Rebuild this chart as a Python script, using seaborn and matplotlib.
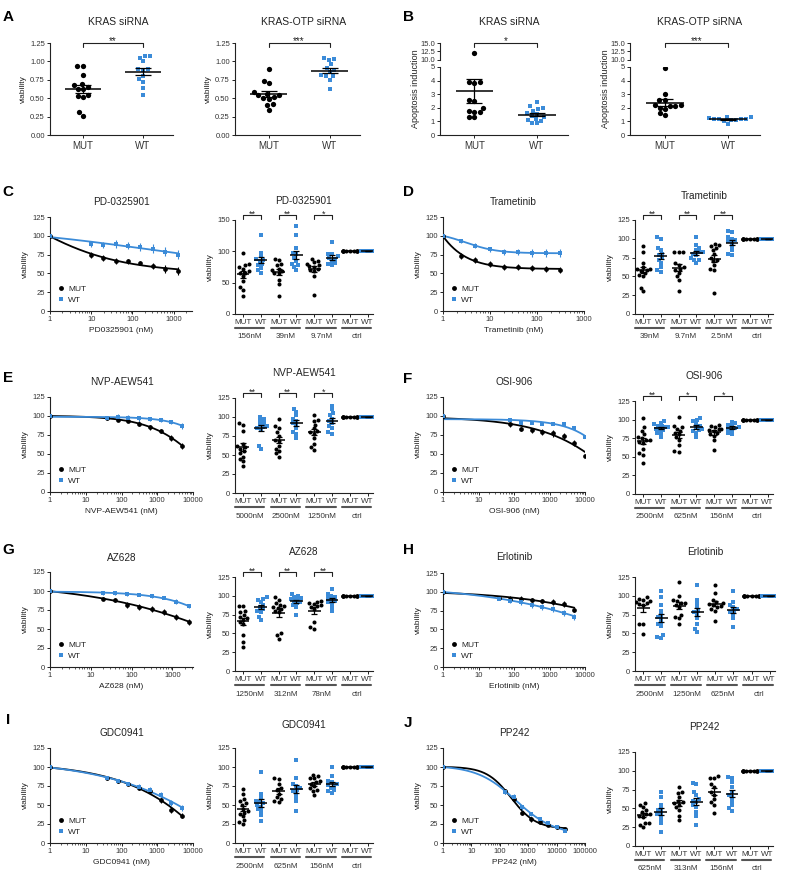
import warnings

import numpy as np
import pandas as pd
import matplotlib
matplotlib.use("Agg")
import matplotlib.pyplot as plt
import matplotlib.transforms as mtransforms
from matplotlib.lines import Line2D
from matplotlib.ticker import LogLocator, NullFormatter, FuncFormatter
import seaborn as sns

warnings.filterwarnings("ignore")

# ---------------- data ----------------
CTRL = [100, 100, 100, 100, 100, 100, 100, 100, 100, 100, 100, 100]

# A / B: siRNA knock-down, viability and apoptosis
A1_MUT = [0.94, 0.94, 0.82, 0.69, 0.68, 0.65, 0.63, 0.62, 0.55, 0.53, 0.52, 0.31, 0.26]
A1_WT = [1.08, 1.07, 1.05, 1.00, 0.90, 0.89, 0.88, 0.80, 0.76, 0.72, 0.64, 0.55]
A2_MUT = [0.89, 0.74, 0.70, 0.58, 0.56, 0.55, 0.54, 0.52, 0.50, 0.49, 0.42, 0.41, 0.34]
A2_WT = [1.05, 1.03, 1.02, 0.96, 0.91, 0.88, 0.85, 0.82, 0.80, 0.80, 0.75, 0.62]
B1_MUT = [12.2, 3.9, 3.9, 3.85, 2.6, 2.5, 2.0, 1.75, 1.7, 1.7, 1.35, 1.3]
B1_WT = [2.4, 2.1, 2.0, 1.9, 1.8, 1.6, 1.55, 1.4, 1.3, 1.2, 1.1, 1.0, 0.9, 0.85]
B2_MUT = [4.9, 3.05, 2.6, 2.55, 2.2, 2.1, 2.2, 2.1, 2.0, 1.9, 1.6, 1.45]
B2_WT = [1.35, 1.3, 1.25, 1.2, 1.2, 1.15, 1.15, 1.1, 1.1, 1.0, 0.8]

# dose-response curves: concentration (nM), mean and SEM viability
C_CONC = [1, 9.77, 19.5, 39, 78, 156, 312, 625, 1250]
C_MUT = [100, 74, 70, 67, 66, 64, 60, 56, 53]
C_MUT_SEM = [0, 4, 4, 4, 3, 3, 4, 5, 5]
C_WT = [100, 89, 88, 89, 87, 85, 83, 79, 75]
C_WT_SEM = [0, 4, 4, 5, 5, 5, 6, 6, 6]

D_CONC = [1, 2.44, 4.88, 9.77, 19.5, 39, 78, 156, 312]
D_MUT = [100, 73, 68, 62, 59, 58, 57, 56, 54]
D_MUT_SEM = [0, 4, 4, 4, 4, 4, 4, 4, 4]
D_WT = [100, 93, 87, 82, 79, 78, 77, 77, 77]
D_WT_SEM = [0, 3, 3, 3, 4, 4, 5, 5, 5]

E_CONC = [1, 39, 78, 156, 312, 625, 1250, 2500, 5000]
E_MUT = [100, 97, 95, 94, 90, 85, 80, 71, 61]
E_MUT_SEM = [0, 2, 2, 2, 3, 3, 3, 4, 4]
E_WT = [100, 97, 99, 98, 97, 96, 95, 92, 87]
E_WT_SEM = [0, 2, 3, 3, 3, 3, 3, 3, 4]

F_CONC = [1, 78, 156, 312, 625, 1250, 2500, 5000, 10000]
F_MUT = [100, 89, 83, 81, 79, 77, 74, 65, 48]
F_MUT_SEM = [0, 3, 3, 3, 4, 4, 4, 4, 4]
F_WT = [100, 95, 91, 91, 90, 90, 89, 84, 72]
F_WT_SEM = [0, 2, 2, 2, 2, 2, 2, 3, 4]

G_CONC = [1, 19.5, 39, 78, 156, 312, 625, 1250, 2500]
G_MUT = [100, 90, 88, 82, 79, 76, 72, 66, 59]
G_MUT_SEM = [0, 2, 3, 4, 4, 4, 4, 4, 4]
G_WT = [100, 97, 97, 96, 95, 93, 91, 86, 80]
G_WT_SEM = [0, 2, 2, 2, 2, 2, 2, 3, 3]

H_CONC = [1, 39, 78, 156, 312, 625, 1250, 2500, 5000]
H_MUT = [100, 92, 91, 91, 89, 88, 87, 84, 76]
H_MUT_SEM = [0, 2, 3, 3, 3, 3, 4, 4, 3]
H_WT = [100, 91, 88, 86, 82, 80, 77, 72, 67]
H_WT_SEM = [0, 2, 3, 3, 3, 4, 4, 4, 4]

I_CONC = [1, 39, 78, 156, 312, 625, 1250, 2500, 5000]
I_MUT = [100, 85, 81, 78, 73, 68, 56, 44, 36]
I_MUT_SEM = [0, 2, 2, 2, 3, 3, 4, 4, 3]
I_WT = [100, 85, 81, 78, 74, 70, 63, 53, 46]
I_WT_SEM = [0, 2, 2, 2, 3, 4, 4, 4, 4]

J_CONC = [1, 156, 312, 625, 1250, 2500, 5000, 10000, 20000]
J_MUT = [100, 68, 58, 40, 31, 27, 24, 21, 18]
J_MUT_SEM = [0, 3, 3, 3, 3, 2, 2, 2, 2]
J_WT = [100, 67, 61, 47, 38, 31, 26, 21, 16]
J_WT_SEM = [0, 3, 3, 3, 3, 3, 2, 2, 2]

# single-dose scatter panels (three doses each, then ctrl)
C_DOSES = ["156nM", "39nM", "9.7nM", "ctrl"]
C_MUT_PTS = [[97, 80, 78, 75, 72, 68, 66, 65, 60, 52, 43, 38, 28],
             [88, 86, 80, 78, 72, 70, 68, 66, 65, 55, 48, 28],
             [88, 85, 83, 80, 78, 76, 75, 72, 70, 68, 60, 31]]
C_WT_PTS = [[126, 98, 92, 88, 86, 85, 80, 78, 74, 70, 66],
            [140, 126, 105, 98, 95, 90, 85, 80, 78, 75, 70],
            [115, 96, 95, 92, 90, 88, 85, 82, 80, 78]]

D_DOSES = ["39nM", "9.7nM", "2.5nM", "ctrl"]
D_MUT_PTS = [[91, 82, 68, 62, 60, 60, 59, 57, 55, 52, 50, 35, 30],
             [83, 82, 82, 68, 65, 62, 60, 58, 55, 50, 45, 30],
             [93, 92, 90, 88, 85, 80, 75, 72, 70, 65, 60, 58, 28]]
D_WT_PTS = [[102, 100, 88, 85, 80, 78, 75, 72, 68, 62, 58, 56],
            [102, 92, 88, 85, 83, 82, 80, 78, 75, 72, 72, 68],
            [111, 109, 102, 100, 98, 97, 95, 90, 85, 80, 78]]

E_DOSES = ["5000nM", "2500nM", "1250nM", "ctrl"]
E_MUT_PTS = [[92, 90, 82, 65, 62, 60, 58, 55, 52, 48, 45, 42, 35],
             [97, 88, 85, 80, 75, 70, 68, 62, 58, 55, 52, 48],
             [103, 96, 95, 90, 85, 82, 80, 78, 72, 65, 60, 56]]
E_WT_PTS = [[100, 98, 95, 92, 90, 88, 87, 85, 83, 62, 58],
            [111, 107, 102, 98, 95, 92, 90, 85, 80, 78, 72],
            [115, 110, 105, 102, 98, 95, 92, 88, 85, 80, 78]]

F_DOSES = ["2500nM", "625nM", "156nM", "ctrl"]
F_MUT_PTS = [[102, 90, 85, 80, 76, 75, 73, 72, 70, 68, 60, 55, 52, 41],
             [103, 92, 90, 88, 85, 82, 80, 76, 72, 66, 58, 57],
             [93, 92, 90, 88, 87, 86, 85, 82, 80, 78, 72, 59]]
F_WT_PTS = [[98, 96, 94, 92, 91, 90, 90, 88, 87, 86, 82, 82, 76],
            [102, 100, 98, 95, 92, 90, 88, 86, 85, 82, 76],
            [97, 95, 93, 92, 90, 89, 88, 86, 82, 80]]

G_DOSES = ["1250nM", "312nM", "78nM", "ctrl"]
G_MUT_PTS = [[87, 86, 80, 78, 75, 72, 70, 68, 65, 62, 48, 38, 32],
             [98, 95, 90, 88, 86, 85, 84, 82, 80, 78, 50, 48, 43],
             [93, 92, 90, 89, 88, 86, 85, 82, 65, 58, 56]]
G_WT_PTS = [[98, 96, 95, 92, 88, 85, 82, 80, 78, 72, 68],
            [102, 100, 98, 97, 96, 95, 93, 92, 90, 88, 85, 74],
            [109, 102, 100, 98, 97, 95, 93, 92, 90, 85, 80]]

H_DOSES = ["2500nM", "1250nM", "625nM", "ctrl"]
H_MUT_PTS = [[98, 96, 95, 93, 92, 90, 89, 88, 63, 62, 49],
             [119, 100, 95, 93, 91, 90, 88, 85, 75, 72, 70, 63],
             [114, 104, 95, 92, 90, 89, 88, 86, 85, 82, 80, 66]]
H_WT_PTS = [[106, 98, 88, 80, 75, 72, 70, 65, 62, 60, 48, 45, 44],
            [115, 95, 90, 85, 80, 78, 75, 70, 62, 56, 52],
            [107, 92, 88, 85, 82, 80, 78, 75, 70, 59]]

I_DOSES = ["2500nM", "625nM", "156nM", "ctrl"]
I_MUT_PTS = [[71, 65, 58, 55, 52, 50, 45, 42, 40, 38, 35, 30, 27, 25],
             [85, 84, 78, 72, 70, 65, 60, 58, 55, 54],
             [90, 88, 86, 85, 82, 80, 78, 75, 72, 70, 68, 63]]
I_WT_PTS = [[94, 65, 60, 55, 54, 52, 50, 48, 45, 42, 37, 29],
            [109, 85, 78, 75, 72, 70, 68, 65, 60, 55, 42],
            [100, 88, 82, 80, 78, 76, 75, 72, 70, 68, 66]]

J_DOSES = ["625nM", "313nM", "156nM", "ctrl"]
J_MUT_PTS = [[57, 55, 52, 48, 45, 43, 42, 40, 38, 30, 30, 28, 25],
             [78, 72, 70, 65, 60, 58, 57, 55, 52, 48, 40, 34],
             [93, 91, 90, 82, 78, 72, 68, 62, 58, 55, 44]]
J_WT_PTS = [[72, 65, 55, 50, 48, 45, 42, 40, 35, 30, 19],
            [84, 82, 72, 68, 62, 60, 58, 55, 52, 45, 40, 28],
            [92, 90, 85, 78, 72, 68, 65, 60, 55, 50, 47]]

# ---------------- styling ----------------
BLUE = "#3b8bd8"
INK = "#222222"
W, H = 800, 883

sns.set_theme(style="ticks")
plt.rcParams["font.family"] = ["Liberation Sans", "DejaVu Sans"]
plt.rcParams["text.color"] = INK
plt.rcParams["axes.labelcolor"] = INK

fig = plt.figure(figsize=(W / 100, H / 100), dpi=100)
fig.patch.set_facecolor("white")


def add_ax(left, top, right, bottom):
    # axes from pixel box (left, top, right, bottom)
    return fig.add_axes([left / W, 1 - bottom / H, (right - left) / W, (bottom - top) / H])


def ptext(x, y, s, **kw):
    kw.setdefault("ha", "center")
    kw.setdefault("va", "center")
    fig.text(x / W, 1 - y / H, s, **kw)


def style(ax):
    sns.despine(ax=ax)
    ax.set_facecolor("none")
    for side in ("left", "bottom"):
        ax.spines[side].set_linewidth(0.8)
        ax.spines[side].set_color(INK)
    ax.tick_params(which="major", length=2.5, width=0.7, labelsize=5.5, pad=1.2,
                   color=INK, labelcolor="#333333")
    ax.tick_params(which="minor", length=1.4, width=0.5, color=INK)
    ax.set_xlabel("")
    ax.set_ylabel("")


def bracket(ax, x0, x1, hpx, star, lift=5, drop=4, fs=6.5):
    tr = mtransforms.blended_transform_factory(ax.transData, ax.transAxes)
    y = 1 + lift / hpx
    ax.plot([x0, x0, x1, x1], [y - drop / hpx, y, y, y - drop / hpx], transform=tr,
            clip_on=False, color=INK, lw=0.8)
    # asterisks sit high in the em box, so anchor on the baseline just under the bar
    ax.text((x0 + x1) / 2, y - 1.5 / hpx, star, transform=tr, ha="center", va="baseline",
            fontsize=fs, color=INK)


def fit_4pl(conc, resp):
    # least-squares 4-parameter logistic: grid over logIC50 / slope, linear in top & bottom
    x = np.log10(np.asarray(conc, float))
    r = np.asarray(resp, float)
    L = np.arange(-1.0, 6.0, 0.02)[:, None, None]
    h = np.arange(0.2, 3.0, 0.02)[None, :, None]
    s = 1.0 / (1.0 + 10 ** ((x[None, None, :] - L) * h))
    sm = s.mean(-1, keepdims=True)
    var = ((s - sm) ** 2).sum(-1)
    cov = ((s - sm) * (r - r.mean())).sum(-1)
    slope = np.where(var > 1e-9, cov / np.maximum(var, 1e-12), 0.0)
    icpt = r.mean() - slope * sm[..., 0]
    sse = ((icpt[..., None] + slope[..., None] * s - r) ** 2).sum(-1)
    sse = np.where(slope > 0, sse, np.inf)
    i, j = np.unravel_index(np.argmin(sse), sse.shape)
    return L[i, 0, 0], h[0, j, 0], icpt[i, j], slope[i, j]


def dose_panel(box, conc, mut, mut_sem, wt, wt_sem, xmax, title, title_y, xlabel):
    ax = add_ax(*box)
    for mean, sem, col, mk in ((mut, mut_sem, "black", "o"), (wt, wt_sem, BLUE, "s")):
        L, h, B, S = fit_4pl(conc, mean)
        xs = np.logspace(0, np.log10(conc[-1]), 300)
        curve = pd.DataFrame({"x": xs, "y": B + S / (1 + 10 ** ((np.log10(xs) - L) * h))})
        sns.lineplot(data=curve, x="x", y="y", color=col, lw=1.3, ax=ax, zorder=2)
        ax.errorbar(conc, mean, yerr=sem, fmt=mk, color=col, ms=3.4, mew=0,
                    elinewidth=0.8, capsize=1.8, capthick=0.8, zorder=3)
    ax.set_xscale("log")
    ax.set_xlim(1, xmax)
    ax.set_ylim(0, 125)
    ax.set_yticks(range(0, 126, 25))
    ax.xaxis.set_major_locator(LogLocator(base=10, numticks=12))
    ax.xaxis.set_major_formatter(FuncFormatter(lambda v, p: f"{v:.0f}"))
    ax.xaxis.set_minor_locator(LogLocator(base=10, subs=np.arange(2, 10), numticks=12))
    ax.xaxis.set_minor_formatter(NullFormatter())
    style(ax)
    ax.set_xlabel(xlabel, fontsize=6, labelpad=3)
    ax.set_ylabel("viability", fontsize=6, labelpad=2)
    handles = [Line2D([], [], marker="o", color="black", ls="none", ms=3.5, mew=0),
               Line2D([], [], marker="s", color=BLUE, ls="none", ms=3.5, mew=0)]
    ax.legend(handles, ["MUT", "WT"], loc="lower left", frameon=False, fontsize=6,
              handletextpad=0.4, borderaxespad=0.6, labelspacing=0.45, handlelength=1.0,
              borderpad=0.2)
    ptext((box[0] + box[2]) / 2, title_y, title, fontsize=7.2)
    return ax


def mean_sem(ax, df, order, half, cap):
    st = df.groupby("cat")["value"].agg(["mean", "sem"]).reindex(order)
    pos = np.arange(len(order))
    ax.hlines(st["mean"], pos - half, pos + half, color="black", lw=1.1, zorder=6)
    ax.errorbar(pos, st["mean"], yerr=st["sem"].fillna(0), fmt="none", ecolor="black",
                elinewidth=0.9, capsize=cap, capthick=0.9, zorder=6)


def swarm(ax, df, order, size):
    mut = df[df.geno == "MUT"]
    wt = df[df.geno == "WT"]
    if len(mut):
        sns.swarmplot(data=mut, x="cat", y="value", order=order, color="black", marker="o",
                      size=size, linewidth=0, ax=ax, zorder=3)
    if len(wt):
        sns.swarmplot(data=wt, x="cat", y="value", order=order, color=BLUE, marker="s",
                      size=size * 0.92, linewidth=0, ax=ax, zorder=3)


ORDER = ["MUT0", "WT0", "MUT1", "WT1", "MUT2", "WT2", "MUT3", "WT3"]


def group_panel(box, mut_sets, wt_sets, doses, stars, title, title_y, ymax=125, ystep=25):
    ax = add_ax(*box)
    hpx = box[3] - box[1]
    xlim = (-0.45, 7.3)
    ax.set_xlim(*xlim)
    ax.set_ylim(0, ymax)
    rows = []
    for i, (m, w) in enumerate(zip(mut_sets + [CTRL], wt_sets + [CTRL])):
        rows += [("MUT%d" % i, "MUT", v) for v in m]
        rows += [("WT%d" % i, "WT", v) for v in w]
    df = pd.DataFrame(rows, columns=["cat", "geno", "value"])
    swarm(ax, df, ORDER, 2.9)
    mean_sem(ax, df, ORDER, 0.36, 2.3)
    ax.set_xlim(*xlim)
    ax.set_ylim(0, ymax)
    ax.set_yticks(range(0, ymax + 1, ystep))
    ax.set_xticks(range(8))
    ax.set_xticklabels(["MUT", "WT"] * 4)
    style(ax)
    ax.tick_params(axis="x", labelsize=5.8, pad=1.0)
    ax.set_ylabel("viability", fontsize=6, labelpad=2)
    tr = mtransforms.blended_transform_factory(ax.transData, ax.transAxes)
    for i, dose in enumerate(doses):
        ax.plot([2 * i - 0.45, 2 * i + 1.2], [-14 / hpx, -14 / hpx], transform=tr,
                clip_on=False, color="#555555", lw=1.5)
        ax.text(2 * i + 0.4, -23 / hpx, dose, transform=tr, ha="center", va="center",
                fontsize=5.8, color="#333333")
    for i, st in enumerate(stars):
        if st:
            bracket(ax, 2 * i, 2 * i + 1, hpx, st)
    ptext((box[0] + box[2]) / 2, title_y, title, fontsize=7.2)
    return ax


PAIR = ["MUT", "WT"]


def pair_df(mut, wt):
    return pd.DataFrame({"cat": ["MUT"] * len(mut) + ["WT"] * len(wt),
                         "geno": ["MUT"] * len(mut) + ["WT"] * len(wt),
                         "value": list(mut) + list(wt)})


# ---------------- A: viability after KRAS knock-down ----------------
for box, mut, wt, star, title, tx in (((50, 43, 173, 135), A1_MUT, A1_WT, "**", "KRAS siRNA", 118),
                                       ((235, 43, 360, 135), A2_MUT, A2_WT, "***", "KRAS-OTP siRNA", 304)):
    ax = add_ax(*box)
    ax.set_xlim(-0.55, 1.5)
    ax.set_ylim(0, 1.25)
    df = pair_df(mut, wt)
    swarm(ax, df, PAIR, 3.8)
    mean_sem(ax, df, PAIR, 0.3, 6)
    ax.set_xlim(-0.55, 1.5)
    ax.set_ylim(0, 1.25)
    ax.set_yticks(np.arange(0, 1.26, 0.25))
    ax.yaxis.set_major_formatter(FuncFormatter(lambda v, p: f"{v:.2f}"))
    ax.set_xticks([0, 1])
    ax.set_xticklabels(PAIR)
    style(ax)
    ax.tick_params(axis="x", labelsize=7, pad=1.5)
    ax.set_ylabel("viability", fontsize=6, labelpad=2)
    bracket(ax, 0, 1, box[3] - box[1], star, lift=0, drop=4, fs=7)
    ptext(tx, 22, title, fontsize=7.5)

# ---------------- B: apoptosis, broken y axis ----------------
for lbox, ubox, mut, wt, star, title, tx, lx in (
        ((440, 67, 568, 135), (440, 43, 568, 60), B1_MUT, B1_WT, "*", "KRAS siRNA", 509, 415),
        ((630, 67, 760, 135), (630, 43, 760, 60), B2_MUT, B2_WT, "***", "KRAS-OTP siRNA", 700, 605)):
    lo = add_ax(*lbox)
    hi = add_ax(*ubox)
    for a, yl in ((lo, (0, 5)), (hi, (10, 15))):
        a.set_xlim(-0.55, 1.5)
        a.set_ylim(*yl)
    df = pair_df(mut, wt)
    swarm(lo, df[df.value < 10], PAIR, 3.8)
    swarm(hi, df[df.value >= 10], PAIR, 3.8)
    mean_sem(lo, df, PAIR, 0.3, 6)
    for a, yl in ((lo, (0, 5)), (hi, (10, 15))):
        a.set_xlim(-0.55, 1.5)
        a.set_ylim(*yl)
    lo.set_yticks(range(0, 6))
    lo.set_xticks([0, 1])
    lo.set_xticklabels(PAIR)
    hi.set_yticks([10, 12.5, 15])
    hi.yaxis.set_major_formatter(FuncFormatter(lambda v, p: f"{v:.1f}"))
    style(lo)
    style(hi)
    lo.tick_params(axis="x", labelsize=7, pad=1.5)
    hi.spines["bottom"].set_visible(False)
    hi.tick_params(axis="x", bottom=False, labelbottom=False)
    bracket(hi, 0, 1, ubox[3] - ubox[1], star, lift=0, drop=4, fs=7)
    ptext(tx, 22, title, fontsize=7.5)
    ptext(lx, 89, "Apoptosis induction", fontsize=6.5, rotation=90)

# ---------------- C-J: drug panels ----------------
dose_panel((50, 217, 192, 311), C_CONC, C_MUT, C_MUT_SEM, C_WT, C_WT_SEM, 2800,
           "PD-0325901", 202, "PD0325901 (nM)")
group_panel((235, 220, 373, 314), C_MUT_PTS, C_WT_PTS, C_DOSES, ["**", "**", "*"],
            "PD-0325901", 201, ymax=150, ystep=50)
dose_panel((443, 217, 584, 311), D_CONC, D_MUT, D_MUT_SEM, D_WT, D_WT_SEM, 1000,
           "Trametinib", 202, "Trametinib (nM)")
group_panel((635, 220, 773, 314), D_MUT_PTS, D_WT_PTS, D_DOSES, ["**", "**", "**"],
            "Trametinib", 196)

dose_panel((50, 397, 193, 492), E_CONC, E_MUT, E_MUT_SEM, E_WT, E_WT_SEM, 10000,
           "NVP-AEW541", 382, "NVP-AEW541 (nM)")
group_panel((235, 398, 373, 493), E_MUT_PTS, E_WT_PTS, E_DOSES, ["**", "**", "*"],
            "NVP-AEW541", 373)
dose_panel((443, 397, 585, 492), F_CONC, F_MUT, F_MUT_SEM, F_WT, F_WT_SEM, 10000,
           "OSI-906", 382, "OSI-906 (nM)")
group_panel((635, 401, 773, 494), F_MUT_PTS, F_WT_PTS, F_DOSES, ["**", "*", "*"],
            "OSI-906", 376)

dose_panel((50, 572, 193, 667), G_CONC, G_MUT, G_MUT_SEM, G_WT, G_WT_SEM, 3200,
           "AZ628", 558, "AZ628 (nM)")
group_panel((235, 577, 373, 671), G_MUT_PTS, G_WT_PTS, G_DOSES, ["**", "**", "**"],
            "AZ628", 552)
dose_panel((443, 573, 585, 667), H_CONC, H_MUT, H_MUT_SEM, H_WT, H_WT_SEM, 10000,
           "Erlotinib", 557, "Erlotinib (nM)")
group_panel((635, 577, 775, 671), H_MUT_PTS, H_WT_PTS, H_DOSES, ["", "", ""],
            "Erlotinib", 552)

dose_panel((50, 748, 193, 843), I_CONC, I_MUT, I_MUT_SEM, I_WT, I_WT_SEM, 10000,
           "GDC0941", 733, "GDC0941 (nM)")
group_panel((235, 748, 373, 843), I_MUT_PTS, I_WT_PTS, I_DOSES, ["", "", ""],
            "GDC0941", 725)
dose_panel((443, 748, 585, 843), J_CONC, J_MUT, J_MUT_SEM, J_WT, J_WT_SEM, 100000,
           "PP242", 733, "PP242 (nM)")
group_panel((635, 752, 773, 846), J_MUT_PTS, J_WT_PTS, J_DOSES, ["", "", ""],
            "PP242", 727)

# panel letters
for letter, x, y in (("A", 8, 17), ("B", 408, 17), ("C", 8, 192), ("D", 408, 192),
                     ("E", 8, 378), ("F", 408, 379), ("G", 8, 550), ("H", 408, 550),
                     ("I", 8, 720), ("J", 408, 723)):
    ptext(x, y, letter, fontsize=11, fontweight="bold", color="black")

fig.savefig("out.png", dpi=100)
